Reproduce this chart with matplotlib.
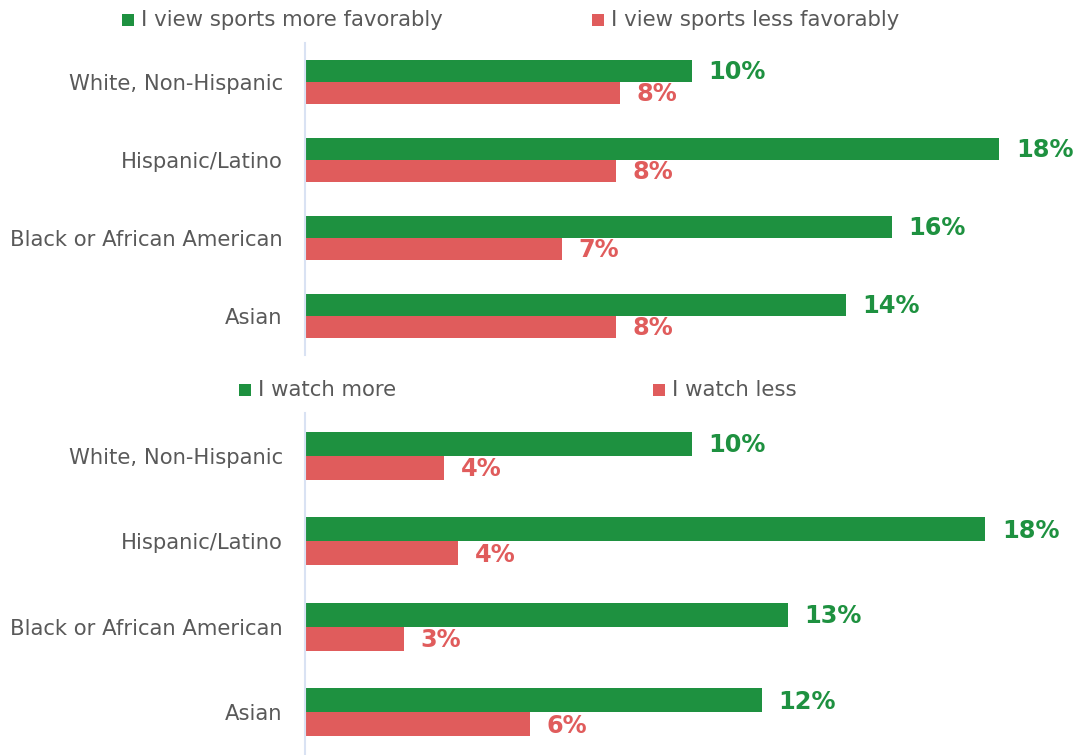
import matplotlib
matplotlib.use("Agg")
import matplotlib.pyplot as plt
from matplotlib.patches import Rectangle

# Share of respondents by race/ethnicity (%)
groups = ["White, Non-Hispanic", "Hispanic/Latino", "Black or African American", "Asian"]

favor_more = [10.27, 18.43, 15.57, 14.35]
favor_less = [8.36, 8.25, 6.82, 8.25]
favor_labels = ["I view sports more favorably", "I view sports less favorably"]

watch_more = [10.27, 18.06, 12.81, 12.12]
watch_less = [3.69, 4.06, 2.63, 5.97]
watch_labels = ["I watch more", "I watch less"]

GREEN = "#1E9140"
RED = "#E05C5C"
TEXT = "#595959"
AXIS = "#D9E2F3"

W, H = 1081, 755
fig = plt.figure(figsize=(W / 100, H / 100), dpi=100)
plt.rcParams["font.family"] = ["DejaVu Sans"]


def px_axes(x0, y0, x1, y1):
    """Axes from pixel box (top-left origin)."""
    return fig.add_axes([x0 / W, 1 - y1 / H, (x1 - x0) / W, (y1 - y0) / H])


def legend_item(x, y, color, label):
    fig.add_artist(Rectangle((x / W, 1 - (y + 6) / H), 12 / W, 12 / H,
                             transform=fig.transFigure, color=color, lw=0))
    fig.text((x + 19) / W, 1 - y / H, label, fontsize=15.3, color=TEXT,
             va="center", ha="left")


def panel(ax, more, less):
    bh = 0.28
    ys = list(range(len(groups)))
    ax.barh([y - bh / 2 for y in ys], more, height=bh, color=GREEN)
    ax.barh([y + bh / 2 for y in ys], less, height=bh, color=RED)
    for y, v in zip(ys, more):
        ax.annotate(f"{round(v)}%", (v, y - bh / 2), xytext=(12, -1),
                    textcoords="offset points", va="center", ha="left",
                    fontsize=17.3, fontweight="bold", color=GREEN)
    for y, v in zip(ys, less):
        ax.annotate(f"{round(v)}%", (v, y + bh / 2), xytext=(12, -1),
                    textcoords="offset points", va="center", ha="left",
                    fontsize=17.3, fontweight="bold", color=RED)
    ax.set_xlim(0, 20.6)
    ax.set_ylim(len(groups) - 0.5, -0.5)
    ax.set_yticks(ys)
    ax.set_yticklabels(groups, fontsize=15.2, color=TEXT)
    ax.tick_params(axis="y", length=0, pad=16)
    ax.set_xticks([])
    for s in ("top", "right", "bottom"):
        ax.spines[s].set_visible(False)
    ax.spines["left"].set_color(AXIS)
    ax.spines["left"].set_linewidth(1.5)


ax1 = px_axes(305, 43, 1081, 355)
panel(ax1, favor_more, favor_less)
ax2 = px_axes(305, 413, 1081, 755)
panel(ax2, watch_more, watch_less)

legend_item(122, 20, GREEN, favor_labels[0])
legend_item(592, 20, RED, favor_labels[1])
legend_item(239, 390, GREEN, watch_labels[0])
legend_item(653, 390, RED, watch_labels[1])

fig.savefig("out.png", dpi=100)
